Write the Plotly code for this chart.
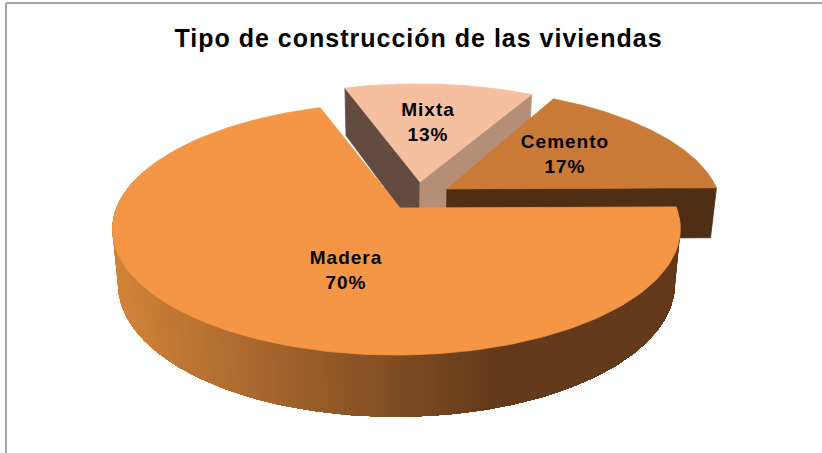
import numpy as np
import plotly.graph_objects as go

# ---- data ----
categories = ["Madera", "Mixta", "Cemento"]
values = [70, 13, 17]
title_text = "Tipo de construcción de las viviendas"

# ---- styling / layout ----
W, H = 822, 453
top_colors = {"Madera": "#F49645", "Mixta": "#F5BFA0", "Cemento": "#C87A36"}
explode = {"Madera": (-0.0125, 0.0), "Mixta": (0.074, 0.22), "Cemento": (0.162, 0.17)}
apex_shift = {"Madera": (0.0, 0.0), "Mixta": (0.074, 0.22), "Cemento": (0.172, 0.16)}
bottom_z = {"Madera": 1.0, "Mixta": 1.0, "Cemento": 0.945}
label_pos = {"Madera": (346, 272), "Mixta": (428, 124), "Cemento": (565, 156)}
wall_left, wall_right = (208, 130, 56), (99, 58, 27)
GRAD_X0, GRAD_X1 = 120, 494
CX, CY, A, B, K = 400.0, 208.0, 280.0, 122.5, 1 / 6
DEPTH, SHRINK = 55.0, 0.02
START_DEG = 0.0
MADERA_START_NUDGE = 0.5


def project(u, v, z):
    """Perspective view of a point on the pie disc; z=0 top face, z=1 bottom face."""
    w = (1 + K * np.asarray(v)) * (1 + SHRINK * z)
    return CX + A * np.asarray(u) / w, CY + (-B * np.asarray(v) + DEPTH * z) / w


def rim(theta_deg, name, z=0):
    t = np.radians(theta_deg)
    du, dv = explode[name]
    return project(np.cos(t) + du, np.sin(t) + dv, z)


def apex(name, z=0):
    du, dv = apex_shift[name]
    return project(du, dv, z)


fig = go.Figure()


def poly(xs, ys, color, line_width=0.8):
    fig.add_trace(go.Scatter(
        x=list(xs) + [xs[0]], y=list(ys) + [ys[0]], mode="lines", fill="toself",
        fillcolor=color, line=dict(color=color, width=line_width),
        hoverinfo="skip", showlegend=False))


def cut_face(name, theta, color):
    z = bottom_z[name]
    ax0, ay0 = apex(name, 0)
    ax1, ay1 = apex(name, z)
    rx0, ry0 = rim(theta, name, 0)
    rx1, ry1 = rim(theta, name, z)
    poly([ax0, rx0, rx1, ax1], [ay0, ry0, ry1, ay1], color)


def top_face(name, t0, t1):
    ts = np.linspace(t0, t1, 160)
    rx, ry = rim(ts, name, 0)
    ax, ay = apex(name, 0)
    poly([ax] + list(rx), [ay] + list(ry), top_colors[name])


# sweep of each slice comes from its value (clockwise from the start angle)
sweeps = {c: v / sum(values) * 360 for c, v in zip(categories, values)}
mad_start = START_DEG + MADERA_START_NUDGE
mad_end = mad_start - sweeps["Madera"]
mix_start = START_DEG - sweeps["Madera"] + 360
mix_end = mix_start - sweeps["Mixta"]
cem_start = mix_end
cem_end = cem_start - sweeps["Cemento"]

# Mixta
cut_face("Mixta", mix_start, "#634C3F")
cut_face("Mixta", mix_end, "#B58E78")
top_face("Mixta", mix_start, mix_end)
# Cemento
cut_face("Cemento", cem_end, "#4F2F14")
top_face("Cemento", cem_start, cem_end)

# Madera outer wall: painted left to right, each band overpainting the rest of the wall
edges = np.arange(-200.0, mad_start + 0.01, 1.0)
for i in range(len(edges) - 1):
    ts = edges[i:]
    xt, yt = rim(ts, "Madera", 0)
    xb, yb = rim(ts, "Madera", 1)
    mid_x = (xt[0] + xt[1]) / 2
    f = np.clip((mid_x - GRAD_X0) / (GRAD_X1 - GRAD_X0), 0, 1)
    c = [int(round(l + (r - l) * f)) for l, r in zip(wall_left, wall_right)]
    poly(list(xt) + list(xb[::-1]), list(yt) + list(yb[::-1]),
         f"rgb({c[0]},{c[1]},{c[2]})", line_width=0)
top_face("Madera", mad_start, mad_end)

# data labels
fig.add_trace(go.Scatter(
    x=[label_pos[c][0] for c in categories],
    y=[label_pos[c][1] for c in categories],
    mode="text",
    text=[f"<b>{c}<br>{v}%</b>" for c, v in zip(categories, values)],
    textposition="middle center",
    textfont=dict(family="Liberation Sans", size=19, color="#000000"),
    hoverinfo="skip", showlegend=False))

border = "#A6A6A6"
fig.update_layout(
    width=W, height=H, margin=dict(l=0, r=0, t=0, b=0, pad=0),
    paper_bgcolor="white", plot_bgcolor="white", showlegend=False,
    title=dict(text=f"<b>{title_text}</b>", x=418.5 / W, xanchor="center",
               y=1 - 38 / H, yanchor="middle",
               font=dict(family="Liberation Sans", size=25, color="#000000")),
    xaxis=dict(range=[0, W], visible=False, fixedrange=True),
    yaxis=dict(range=[H, 0], visible=False, fixedrange=True),
    shapes=[
        dict(type="line", x0=6, x1=6, y0=3, y1=H, line=dict(color=border, width=2)),
        dict(type="line", x0=6, x1=W, y0=3, y1=3, line=dict(color=border, width=2)),
    ],
)

post = """
document.body.style.margin='0';document.body.style.overflow='hidden';
document.querySelectorAll('.gtitle').forEach(function(t){t.style.letterSpacing='1px';});
document.querySelectorAll('.textpoint text').forEach(function(t){t.style.letterSpacing='1px';});
"""
fig.write_html("out.html", post_script=post, config={"displayModeBar": False})
